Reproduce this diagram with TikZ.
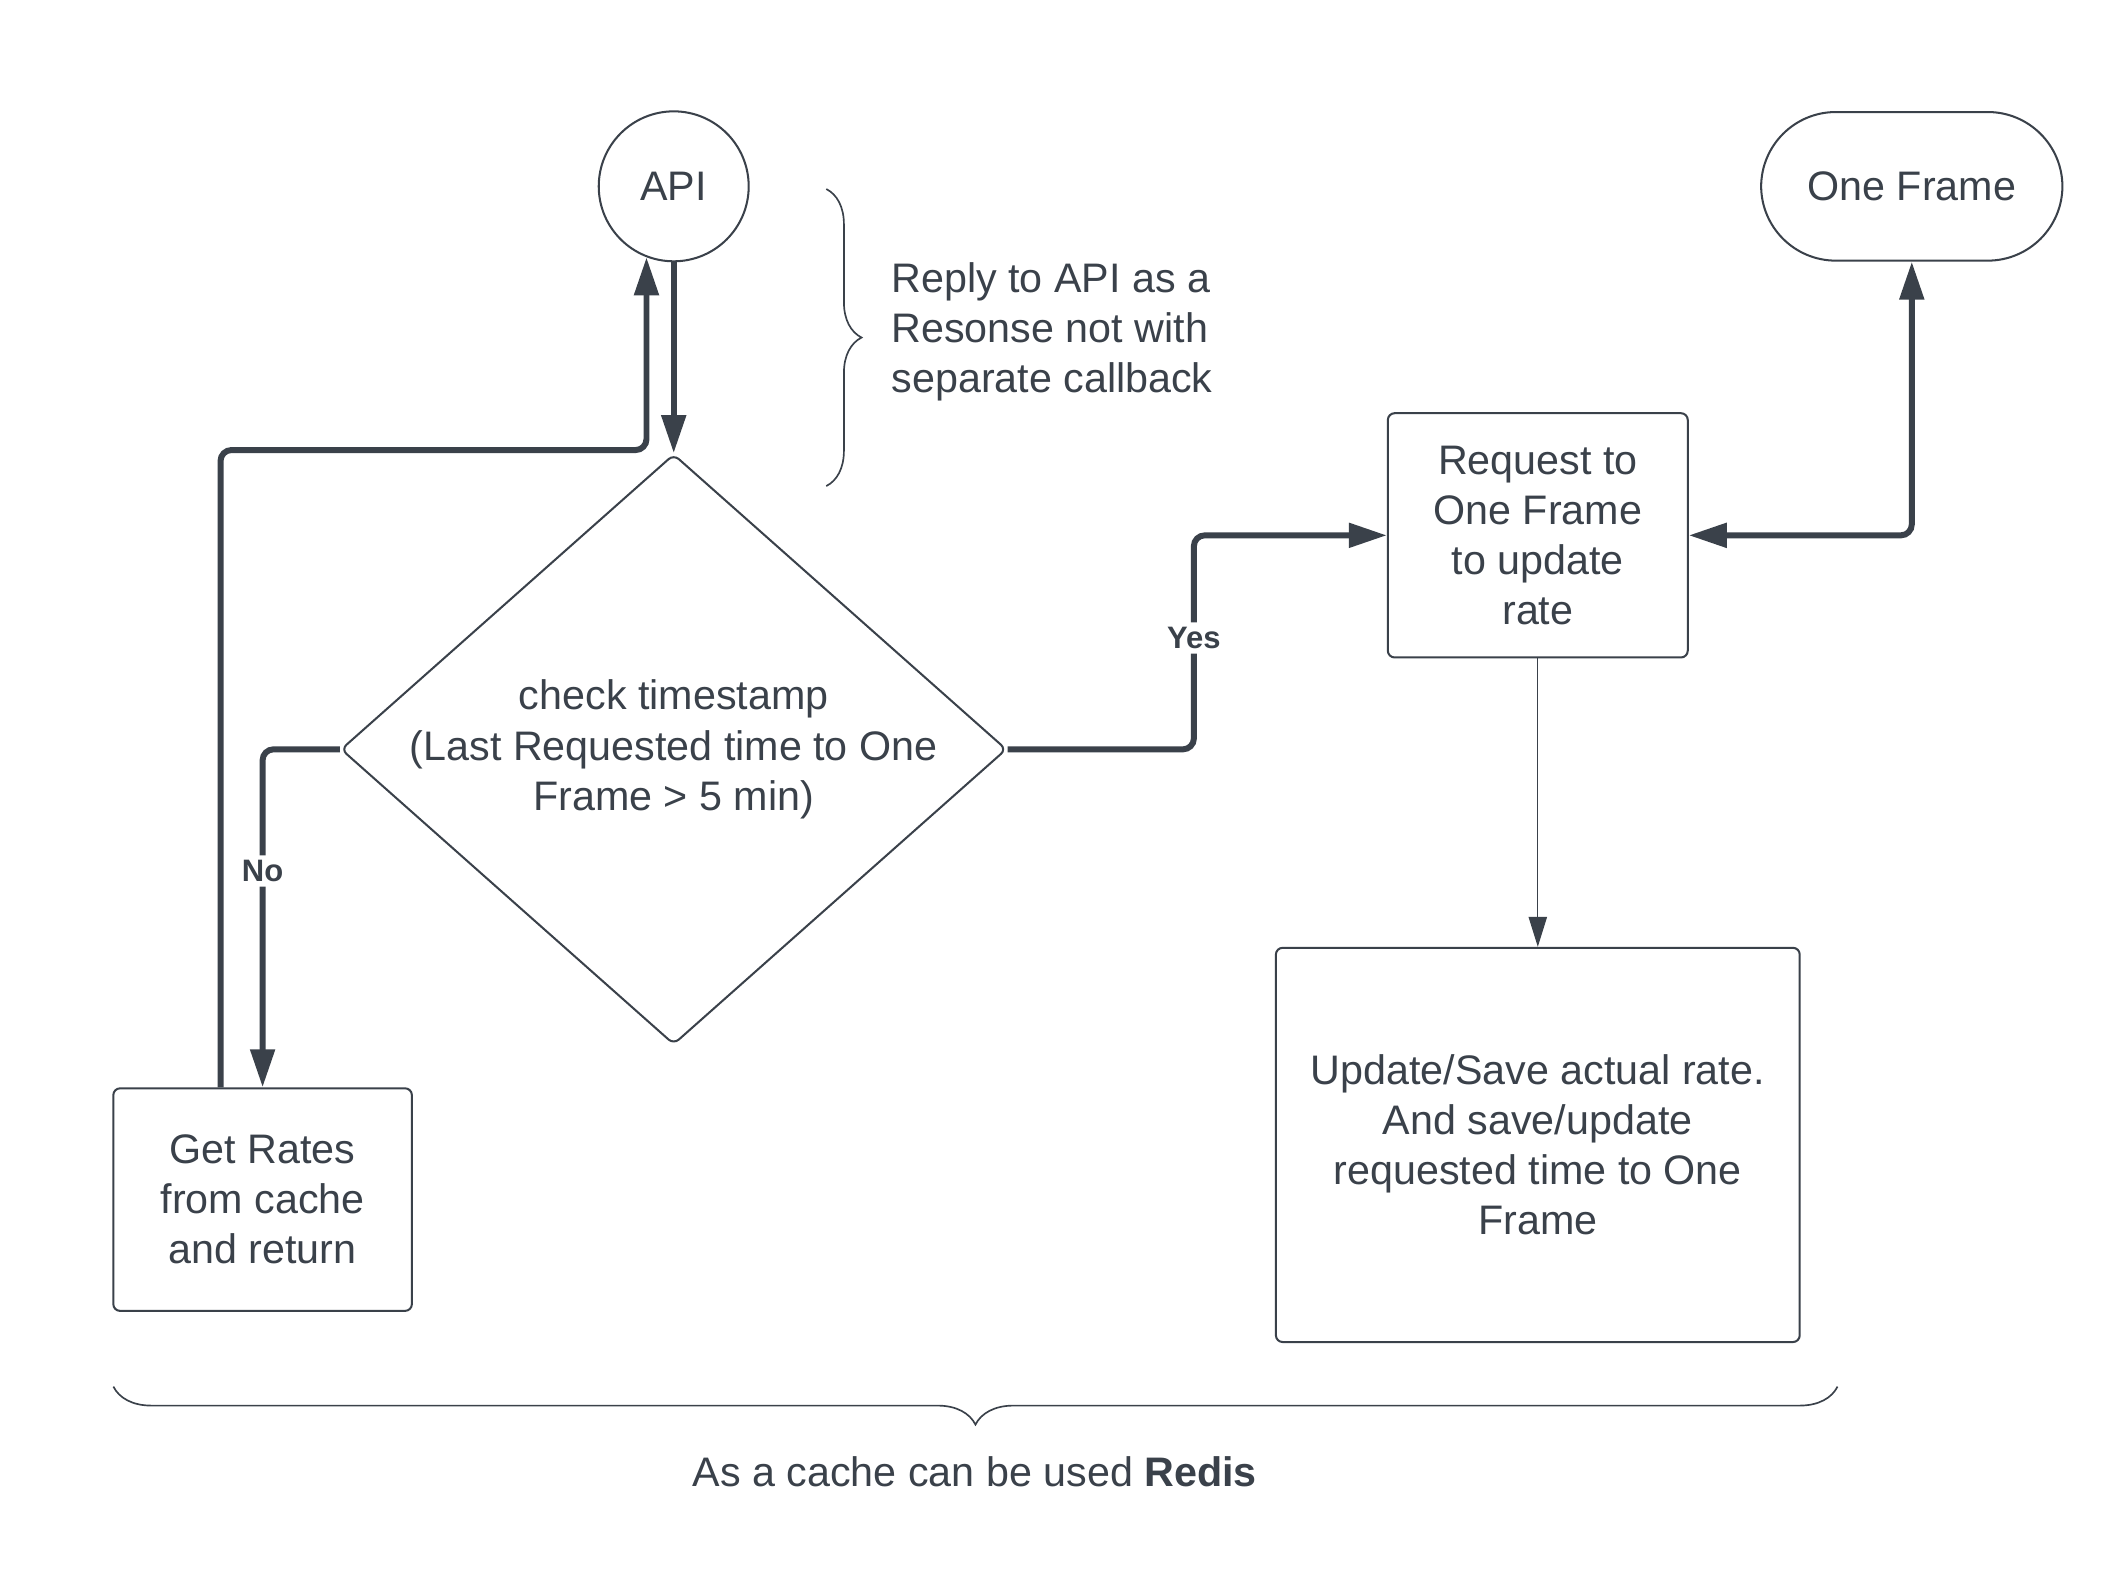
\documentclass[tikz,border=0pt]{standalone}
\usepackage{fontspec}
\setmainfont{Liberation Sans}
\usepackage{tikz}
\usetikzlibrary{shapes.geometric,arrows.meta,decorations.pathreplacing}
\definecolor{ink}{HTML}{3A414A}

\begin{document}
\begin{tikzpicture}[x=0.0199cm,y=-0.0199cm,>={Triangle[length=0.56cm,width=0.35cm]},
    flow/.style={draw=ink,line width=2.5pt,->,rounded corners=0.16cm},
    thinflow/.style={draw=ink,line width=0.5pt,-{Triangle[length=0.44cm,width=0.27cm]}},
    every node/.style={text=ink,font=\fontsize{17.3pt}{21pt}\selectfont,align=center},
    box/.style={draw=ink,line width=0.85pt,rounded corners=0.1cm,inner sep=0pt},
    lbl/.style={fill=white,font=\fontsize{13pt}{15pt}\selectfont\bfseries,inner sep=2pt},
    curly/.style={draw=ink,line width=0.7pt,decorate,decoration={brace,amplitude=#1}}]
  \useasboundingbox (0,0) rectangle (1568,1165.1);

  \node[box,circle,minimum size=2.21cm] (api) at (499,138) {API};
  \node[box,minimum width=4.44cm,minimum height=2.19cm,rounded corners=1.1cm] (oneframe) at (1416,138) {One Frame};
  \node[box,diamond,minimum width=9.81cm,minimum height=8.7cm,
    label={center:{check timestamp\\(Last Requested time to One\\Frame > 5 min)}}] (check) at (499,555) {};
  \node[box,minimum width=4.42cm,minimum height=3.6cm] (request) at (1139,396.5) {Request to\\One Frame\\to update\\rate};
  \node[box,minimum width=7.72cm,minimum height=5.81cm] (update) at (1139,848) {Update/Save actual rate.\\And save/update\\requested time to One\\Frame};
  \node[box,minimum width=4.4cm,minimum height=3.28cm] (getrates) at (194.5,888.5) {Get Rates\\from cache\\and return};
  \node[anchor=west,align=left,inner sep=0pt] (reply) at (660,246) {Reply to API as a\\Resonse not with\\separate callback};
  \node (redis) at (722,1090) {As a cache can be used \textbf{Redis}};

  % connectors
  \draw[flow] (api) -- (check.north);
  \draw[flow] ([xshift=-0.62cm]getrates.north) -- ++(0,-472) -| (api.-111);
  \draw[flow] (check.west) -| node[lbl,pos=0.68] {No} (getrates.north);
  \draw[flow] (check.east) -- ++(138,0) |- node[lbl,pos=0.26] {Yes} (request.west);
  \draw[flow,<->] (request.east) -| (oneframe.south);
  \draw[thinflow] (request) -- (update);

  % braces
  \draw[curly=0.52cm] (612,140) -- (612,360);
  \draw[curly=0.56cm] (1361,1027) -- (84,1027);
\end{tikzpicture}
\end{document}
